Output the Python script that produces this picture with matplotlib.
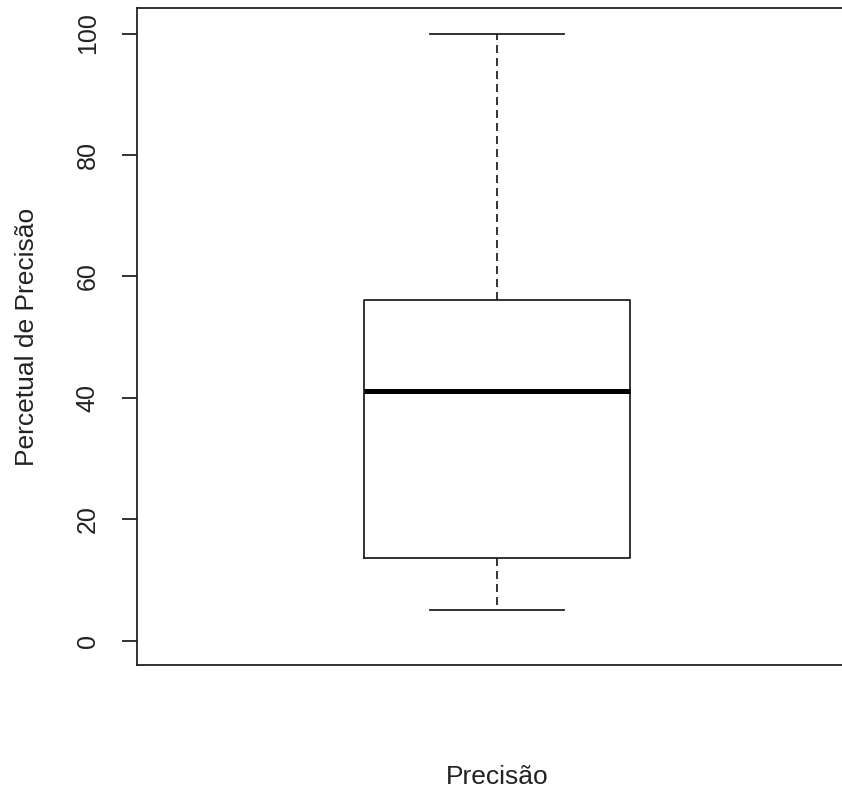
import matplotlib.pyplot as plt

plt.rcParams['font.family'] = ['Liberation Sans', 'DejaVu Sans']

# box summary
label = 'Precisão'
whisker_low = 5.0
q1 = 13.6
median = 41.2
q3 = 56.1
whisker_high = 100.0

yticks = [0, 20, 40, 60, 80, 100]

stats = [{
    'label': label,
    'whislo': whisker_low,
    'q1': q1,
    'med': median,
    'q3': q3,
    'whishi': whisker_high,
    'fliers': [],
}]

fig = plt.figure(figsize=(8.42, 7.9), dpi=100)
# right edge of the plot region lies past the figure, as in the reference
ax = fig.add_axes([137 / 842, 1 - 665 / 790, 720 / 842, 657 / 790])

line_col = '#222222'
lw = 1.3

ax.bxp(stats, positions=[1], widths=0.4, capwidths=0.2, showfliers=False,
       boxprops=dict(color=line_col, linewidth=lw),
       whiskerprops=dict(color=line_col, linewidth=lw, linestyle=(0, (4.4, 2.8))),
       capprops=dict(color=line_col, linewidth=lw),
       medianprops=dict(color='black', linewidth=3.6, solid_capstyle='butt'))

ax.set_xlim(0.46, 1.54)
ax.set_ylim(-4.0, 104.2)
ax.set_xticks([])
ax.set_yticks(yticks)
ax.set_yticklabels([str(t) for t in yticks], rotation=90, va='center',
                   fontsize=18, color='#222222')
ax.tick_params(axis='y', length=10.8, width=lw, color=line_col, pad=16)

for s in ax.spines.values():
    s.set_color(line_col)
    s.set_linewidth(lw)

fig.text(27 / 842, 1 - 337 / 790, 'Percetual de Precisão', rotation=90,
         ha='center', va='center', fontsize=19, color='#222222')
fig.text(497 / 842, 1 - 777 / 790, label, ha='center', va='center',
         fontsize=19, color='#222222')

fig.savefig('out.png', dpi=100)
